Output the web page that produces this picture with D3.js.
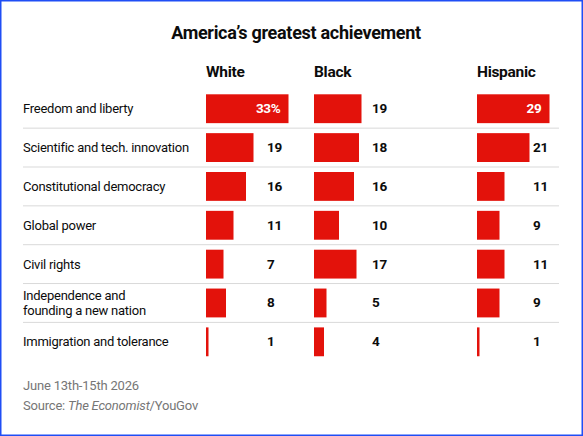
<!DOCTYPE html>
<html>
<head>
<meta charset="utf-8">
<script src="https://cdn.jsdelivr.net/npm/d3@7"></script>
<style>
  html, body { margin: 0; padding: 0; background: #fff; }
  svg { display: block; }
  text { font-family: Roboto, "Noto Sans", sans-serif; }
</style>
</head>
<body>
<div id="chart"></div>
<script>
// Chart data
const categories = [
    'Freedom and liberty',
    'Scientific and tech. innovation',
    'Constitutional democracy',
    'Global power',
    'Civil rights',
    'Independence and\nfounding a new nation',
    'Immigration and tolerance'
];
const groups = ['White', 'Black', 'Hispanic'];
const whiteValues = [33, 19, 16, 11, 7, 8, 1];
const blackValues = [19, 18, 16, 10, 17, 5, 4];
const hispanicValues = [29, 21, 11, 9, 11, 9, 1];
const title = 'America\u2019s greatest achievement';
const footnote = 'June 13th-15th 2026';

const width = 583;
const height = 436;
const red = '#e3120b';

// Column layout: bar origin and where outside value labels sit
const columns = [
    { name: groups[0], values: whiteValues, x: 206, labelX: 267 },
    { name: groups[1], values: blackValues, x: 314, labelX: 372 },
    { name: groups[2], values: hispanicValues, x: 477, labelX: 533 }
];

const svg = d3.select('#chart').append('svg')
    .attr('width', width)
    .attr('height', height);

// Blue frame round the picture
svg.append('rect')
    .attr('x', 0.75)
    .attr('y', 0.75)
    .attr('width', width - 1.5)
    .attr('height', height - 1.5)
    .attr('fill', '#fff')
    .attr('stroke', '#1f4ef5')
    .attr('stroke-width', 1.5);

// Scales
const x = d3.scaleLinear().domain([0, 40]).range([0, 100]);
const y = d3.scaleBand()
    .domain(categories)
    .range([89.3, 89.3 + categories.length * 38.85])
    .padding(0);
const barInset = 5;

// Title
svg.append('text')
    .attr('x', 296)
    .attr('y', 39)
    .attr('text-anchor', 'middle')
    .style('font-size', '18px')
    .style('font-weight', '700')
    .style('letter-spacing', '-0.3px')
    .style('fill', '#0c0c0c')
    .text(title);

// Column headers
svg.selectAll('.col-header')
    .data(columns)
    .enter()
    .append('text')
    .attr('class', 'col-header')
    .attr('x', d => d.x)
    .attr('y', 76.7)
    .style('font-size', '15.5px')
    .style('font-weight', '700')
    .style('letter-spacing', '-0.3px')
    .style('fill', '#0c0c0c')
    .text(d => d.name);

// Row separators (between rows only)
svg.selectAll('.row-sep')
    .data(categories.slice(1))
    .enter()
    .append('line')
    .attr('class', 'row-sep')
    .attr('x1', 23)
    .attr('x2', 559)
    .attr('y1', d => y(d))
    .attr('y2', d => y(d))
    .attr('stroke', '#d9d9d9')
    .attr('stroke-width', 1);

// Row labels
const rowLabels = svg.selectAll('.row-label')
    .data(categories)
    .enter()
    .append('text')
    .attr('class', 'row-label')
    .attr('x', 23)
    .attr('y', d => y(d) + y.bandwidth() / 2 + 4.5)
    .style('font-size', '13px')
    .style('letter-spacing', '-0.25px')
    .style('fill', '#0c0c0c');

rowLabels.each(function(d) {
    const lines = d.split('\n');
    const t = d3.select(this);
    const offset = -(lines.length - 1) * 7.5;
    lines.forEach((line, i) => {
        t.append('tspan')
            .attr('x', 23)
            .attr('dy', i === 0 ? offset : 15)
            .text(line);
    });
});

// Bars and value labels per column
columns.forEach(col => {
    const g = svg.append('g').attr('class', 'column');
    const rows = categories.map((c, i) => ({ category: c, value: col.values[i], index: i }));

    g.selectAll('rect')
        .data(rows)
        .enter()
        .append('rect')
        .attr('x', col.x)
        .attr('y', d => y(d.category) + barInset)
        .attr('width', d => x(d.value))
        .attr('height', y.bandwidth() - 2 * barInset)
        .attr('fill', red);

    g.selectAll('text')
        .data(rows)
        .enter()
        .append('text')
        .each(function(d) {
            const barEnd = col.x + x(d.value);
            // label goes inside when the bar would run into it
            const inside = barEnd > col.labelX;
            d3.select(this)
                .attr('x', inside ? barEnd - 8 : col.labelX)
                .attr('text-anchor', inside ? 'end' : 'start')
                .style('fill', inside ? '#fff' : '#0c0c0c');
        })
        .attr('y', d => y(d.category) + y.bandwidth() / 2 + 4.5)
        .style('font-size', '13.5px')
        .style('font-weight', '700')
        .style('letter-spacing', '-0.3px')
        .text(d => (col.name === 'White' && d.index === 0) ? d.value + '%' : d.value);
});

// Footer
svg.append('text')
    .attr('x', 23)
    .attr('y', 390)
    .style('font-size', '13px')
    .style('letter-spacing', '-0.2px')
    .style('fill', '#767676')
    .text(footnote);

const source = svg.append('text')
    .attr('x', 23)
    .attr('y', 410)
    .style('font-size', '13px')
    .style('letter-spacing', '-0.2px')
    .style('fill', '#767676');
source.append('tspan').text('Source: ');
source.append('tspan').style('font-style', 'italic').text('The Economist');
source.append('tspan').text('/YouGov');
</script>
</body>
</html>
